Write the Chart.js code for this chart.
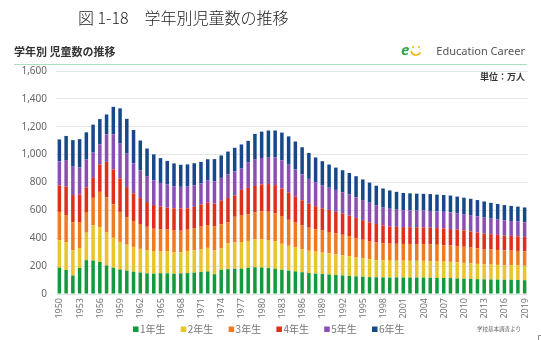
<!DOCTYPE html>
<html lang="ja">
<head>
<meta charset="utf-8">
<script src="https://cdn.jsdelivr.net/npm/chart.js@4.4.1/dist/chart.umd.min.js"></script>
<style>
  html, body { margin: 0; padding: 0; background: #fff; }
  #wrap { position: relative; width: 541px; height: 340px; }
</style>
</head>
<body>
<div id="wrap"><canvas id="chartGakunen" width="541" height="340"></canvas></div>
<script>
// 年度 (1950〜2019)
const years = [];
for (let y = 1950; y <= 2019; y++) years.push(String(y));

// 学年別児童数 (万人)
const grade1 = [
    190, 172, 133, 187, 243, 240, 230, 205, 188, 176,
    168, 160, 154, 148, 146, 149, 148, 146, 148, 150,
    153, 158, 162, 142, 174, 178, 180, 182, 188, 192,
    190, 186, 182, 174, 168, 162, 156, 150, 146, 143,
    140, 136, 133, 130, 127, 124, 121, 120, 119, 118,
    119, 118, 118, 118, 118, 116, 115, 115, 114, 111,
    110, 108, 106, 105, 104, 103, 102, 102, 101, 99
];
const grade2 = [
    195, 200, 182, 143, 197, 253, 250, 240, 215, 198,
    186, 178, 170, 164, 158, 156, 159, 154, 152, 159,
    161, 164, 169, 173, 153, 185, 189, 191, 193, 199,
    203, 201, 195, 186, 178, 172, 166, 160, 158, 154,
    151, 148, 144, 141, 134, 131, 128, 123, 122, 121,
    120, 121, 120, 120, 120, 120, 118, 117, 117, 116,
    113, 112, 110, 108, 107, 106, 105, 104, 104, 103
];
const grade3 = [
    204, 195, 200, 182, 143, 197, 253, 250, 240, 215,
    198, 186, 178, 170, 164, 158, 156, 159, 154, 152,
    159, 161, 164, 169, 173, 153, 185, 189, 191, 193,
    199, 203, 201, 195, 186, 178, 172, 166, 160, 158,
    154, 151, 148, 144, 141, 134, 131, 128, 123, 122,
    121, 120, 121, 120, 120, 120, 120, 118, 117, 117,
    116, 113, 112, 110, 108, 107, 106, 105, 104, 104
];
const grade4 = [
    190, 204, 195, 200, 182, 143, 197, 253, 250, 240,
    215, 198, 186, 178, 170, 164, 158, 156, 159, 154,
    152, 159, 161, 164, 169, 173, 153, 185, 189, 191,
    193, 199, 203, 201, 195, 186, 178, 172, 166, 160,
    158, 154, 151, 148, 144, 141, 134, 131, 128, 123,
    122, 121, 120, 121, 120, 120, 120, 120, 118, 117,
    117, 116, 113, 112, 110, 108, 107, 106, 105, 104
];
const grade5 = [
    173, 190, 204, 195, 200, 182, 143, 197, 253, 250,
    240, 215, 198, 186, 178, 170, 164, 158, 156, 159,
    154, 152, 159, 161, 164, 169, 173, 153, 185, 189,
    191, 193, 199, 203, 201, 195, 186, 178, 172, 166,
    160, 158, 154, 151, 148, 144, 141, 134, 131, 128,
    123, 122, 121, 120, 121, 120, 120, 120, 120, 118,
    117, 117, 116, 113, 112, 110, 108, 107, 106, 105
];
const grade6 = [
    157, 173, 190, 204, 195, 200, 182, 143, 197, 253,
    250, 240, 215, 198, 186, 178, 170, 164, 158, 156,
    159, 154, 152, 159, 161, 164, 169, 173, 153, 185,
    189, 191, 193, 199, 203, 201, 195, 186, 178, 172,
    166, 160, 158, 154, 151, 148, 144, 141, 134, 131,
    128, 123, 122, 121, 120, 121, 120, 120, 120, 120,
    118, 117, 117, 116, 113, 112, 110, 108, 107, 106
];

const gradeLabels = ['1年生', '2年生', '3年生', '4年生', '5年生', '6年生'];
const gradeColors = ['#139a3c', '#e8c52a', '#ee7a22', '#df2f1c', '#8b4fb3', '#17488a'];
const gradeData = [grade1, grade2, grade3, grade4, grade5, grade6];

const FONT = '"Noto Sans", "Noto Sans CJK JP", sans-serif';
const JP = '"Noto Sans CJK JP", sans-serif';

// 見出し・ロゴ・年ラベル・凡例などの描画
const decoPlugin = {
    id: 'deco',
    afterDraw(chart) {
        const ctx = chart.ctx;
        const xScale = chart.scales.x;
        ctx.save();

        // 図タイトル
        ctx.fillStyle = '#222';
        ctx.font = '300 16px ' + JP;
        ctx.textBaseline = 'middle';
        ctx.textAlign = 'left';
        ctx.fillText('図 1-18　学年別児童数の推移', 78, 18);

        // サブタイトル
        ctx.fillStyle = '#333';
        ctx.font = 'bold 11px ' + JP;
        ctx.fillText('学年別 児童数の推移', 14, 52);

        // ロゴ
        ctx.fillStyle = '#2aa84a';
        ctx.font = 'italic bold 15px ' + FONT;
        ctx.fillText('e', 401, 51);
        ctx.strokeStyle = '#f0b400';
        ctx.lineWidth = 1.6;
        ctx.beginPath();
        ctx.arc(416, 50, 5, 0.15 * Math.PI, 0.95 * Math.PI);
        ctx.stroke();
        ctx.fillStyle = '#f0b400';
        ctx.beginPath(); ctx.arc(413, 47, 1, 0, 2 * Math.PI); ctx.fill();
        ctx.beginPath(); ctx.arc(419, 47, 1, 0, 2 * Math.PI); ctx.fill();
        ctx.fillStyle = '#555';
        ctx.font = '11px ' + FONT;
        ctx.textAlign = 'right';
        ctx.fillText('Education Career', 525, 52);

        // 区切り線
        ctx.strokeStyle = '#a9dfc3';
        ctx.lineWidth = 1;
        ctx.beginPath();
        ctx.moveTo(14, 64.5);
        ctx.lineTo(527, 64.5);
        ctx.stroke();

        // 単位
        ctx.fillStyle = '#333';
        ctx.font = 'bold 9px ' + JP;
        ctx.textAlign = 'right';
        ctx.fillText('単位：万人', 525, 77);

        // 年ラベル (3年おき・縦書き)
        ctx.fillStyle = '#777';
        ctx.font = '9px ' + FONT;
        years.forEach((label, i) => {
            if (i % 3 !== 0) return;
            const x = xScale.getPixelForValue(i);
            ctx.save();
            ctx.translate(x, chart.chartArea.bottom + 4);
            ctx.rotate(-Math.PI / 2);
            ctx.textAlign = 'right';
            ctx.textBaseline = 'middle';
            ctx.fillText(label, 0, 0.5);
            ctx.restore();
        });

        // 凡例
        ctx.textAlign = 'left';
        ctx.textBaseline = 'middle';
        ctx.font = '10px ' + JP;
        gradeLabels.forEach((label, i) => {
            const x = 133 + i * 47.8;
            ctx.fillStyle = gradeColors[i];
            ctx.fillRect(x, 326.5, 5.5, 5.5);
            ctx.fillStyle = '#777';
            ctx.fillText(label, x + 7, 329.5);
        });

        // 出典
        ctx.fillStyle = '#666';
        ctx.font = '5.5px ' + JP;
        ctx.fillText('学校基本調査より', 477, 329);

        // 右下の枠
        ctx.strokeStyle = '#888';
        ctx.beginPath();
        ctx.moveTo(538.5, 340);
        ctx.lineTo(538.5, 335.5);
        ctx.lineTo(541, 335.5);
        ctx.stroke();

        ctx.restore();
    }
};

const canvas = document.getElementById('chartGakunen');

new Chart(canvas, {
    type: 'bar',
    data: {
        labels: years,
        datasets: gradeData.map((data, i) => ({
            label: gradeLabels[i],
            data: data,
            backgroundColor: gradeColors[i],
            borderWidth: 0,
            barPercentage: 0.52,
            categoryPercentage: 1.0
        }))
    },
    options: {
        responsive: false,
        animation: false,
        layout: {
            padding: { top: 71, right: 13, bottom: 38, left: 0 }
        },
        plugins: {
            legend: { display: false },
            tooltip: { enabled: false }
        },
        scales: {
            x: {
                stacked: true,
                grid: { display: false },
                border: { display: false },
                ticks: { display: false }
            },
            y: {
                stacked: true,
                min: 0,
                max: 1600,
                afterFit: (scale) => { scale.width = 56; },
                grid: { color: '#e6e6e6', drawTicks: false },
                border: { display: false },
                ticks: {
                    stepSize: 200,
                    padding: 9,
                    color: '#666',
                    font: { size: 10, family: FONT },
                    callback: (v) => v.toLocaleString('en-US')
                }
            }
        }
    },
    plugins: [decoPlugin]
});
</script>
</body>
</html>
